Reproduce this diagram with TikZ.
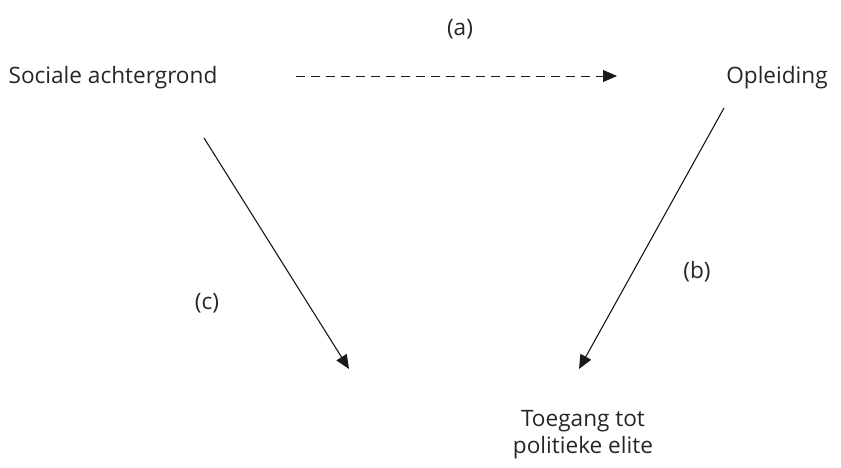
\documentclass[tikz,border=0pt]{standalone}
\usepackage{fontspec}
\setmainfont{Open Sans}
\usetikzlibrary{arrows.meta}
\begin{document}
\begin{tikzpicture}[x=1pt,y=-1pt,
  lbl/.style={inner sep=0pt, font=\fontsize{22.6}{27}\selectfont, text=black!85},
  conn/.style={line width=1.1pt, black!90, -{Triangle[length=14pt,width=12pt]}}]
\useasboundingbox (0,0) rectangle (841,468);
\node[lbl] (soc) at (113,78) {Sociale achtergrond};
\node[lbl] (opl) at (777,78) {Opleiding};
\node[lbl, align=center] (toe) at (583,435) {Toegang tot\\politieke elite};
\node[lbl] (la) at (460,29) {(a)};
\node[lbl] (lb) at (697,272) {(b)};
\node[lbl] (lc) at (207,303) {(c)};
\coordinate (a1) at (296,76);
\coordinate (a2) at (617,76);
\coordinate (c1) at (204,138);
\coordinate (c2) at (349,369);
\coordinate (b1) at (724,108);
\coordinate (b2) at (579,369);
\draw[conn, line width=0.9pt, dash pattern=on 9pt off 6pt] (a1) -- (a2);
\draw[conn] (c1) -- (c2);
\draw[conn] (b1) -- (b2);
\end{tikzpicture}
\end{document}
